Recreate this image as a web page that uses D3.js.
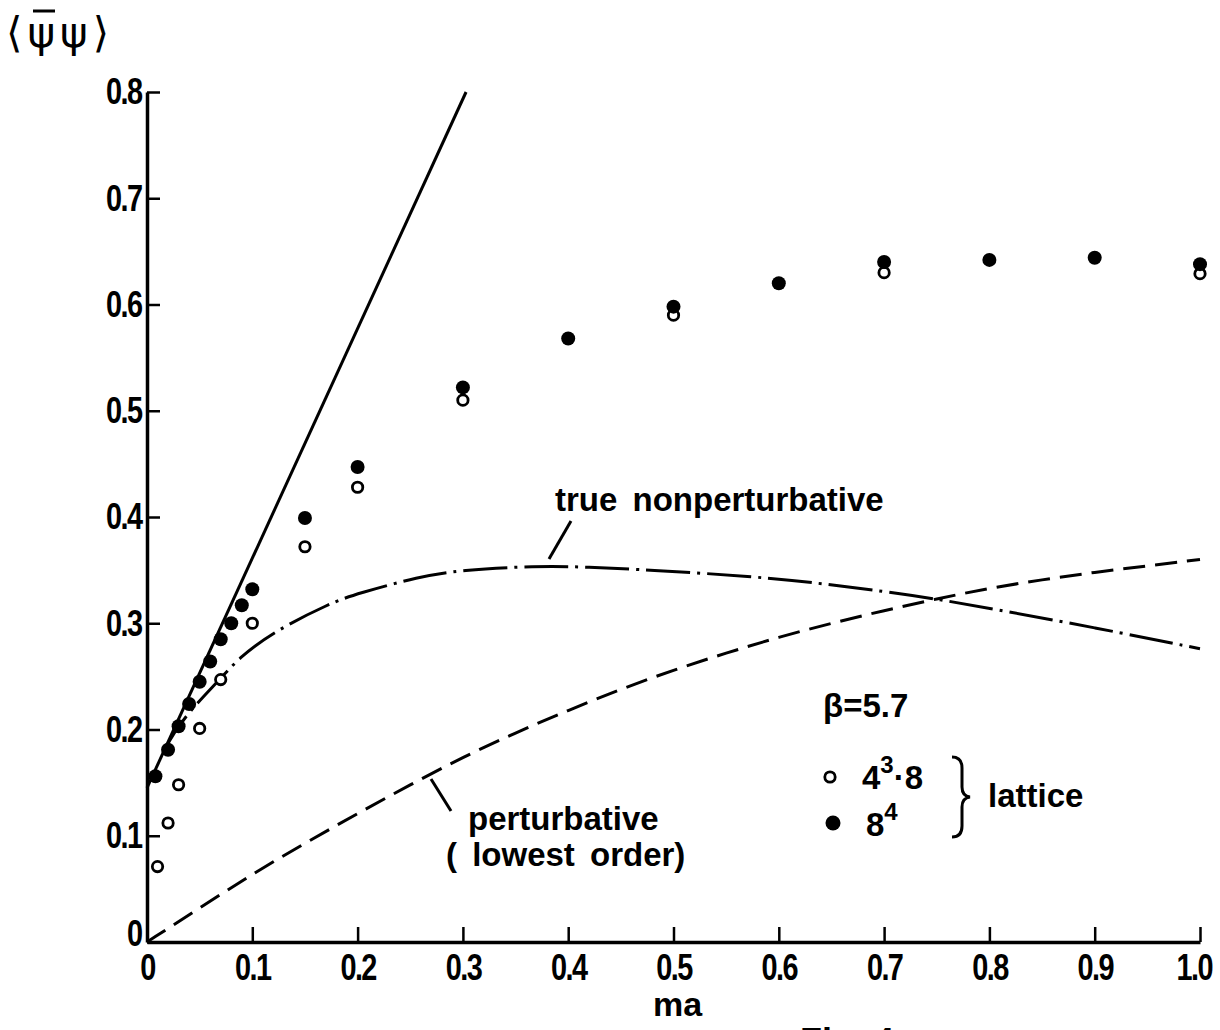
<!DOCTYPE html>
<html><head><meta charset="utf-8">
<script src="https://cdn.jsdelivr.net/npm/d3@7/dist/d3.min.js"></script>
<style>
body{margin:0;background:#fff;}
text{fill:#000;}
</style></head>
<body>
<svg id="c" width="1220" height="1030"></svg>
<script>
// ---- data ----
const xTicks = [0,0.1,0.2,0.3,0.4,0.5,0.6,0.7,0.8,0.9,1.0];
const xTickLabels = ["0","0.1","0.2","0.3","0.4","0.5","0.6","0.7","0.8","0.9","1.0"];
const yTicks = [0,0.1,0.2,0.3,0.4,0.5,0.6,0.7,0.8];
const yTickLabels = ["0","0.1","0.2","0.3","0.4","0.5","0.6","0.7","0.8"];

// 4^3·8 lattice (open circles)
const openX = [0.01,0.02,0.03,0.05,0.07,0.10,0.15,0.20,0.30,0.50,0.70,1.00];
const openY = [0.071,0.112,0.148,0.201,0.247,0.300,0.372,0.428,0.510,0.590,0.630,0.629];
// 8^4 lattice (filled circles)
const filledX = [0.008,0.02,0.03,0.04,0.05,0.06,0.07,0.08,0.09,0.10,0.15,0.20,0.30,0.40,0.50,0.60,0.70,0.80,0.90,1.00];
const filledY = [0.156,0.181,0.203,0.224,0.245,0.264,0.285,0.300,0.317,0.332,0.399,0.447,0.522,0.568,0.598,0.620,0.640,0.642,0.644,0.638];
// straight solid line
const lineX = [0,0.303];
const lineY = [0.145,0.80];
// true nonperturbative (dash-dot)
const npX = [0.015,0.025,0.041,0.069,0.088,0.12,0.174,0.20,0.259,0.297,0.37,0.417,0.481,0.576,0.636,0.70,0.755,0.80,0.90,1.00];
const npY = [0.178,0.196,0.218,0.247,0.268,0.292,0.319,0.328,0.344,0.350,0.354,0.353,0.350,0.344,0.338,0.330,0.322,0.314,0.296,0.276];
// perturbative lowest order (dashed)
const ptX = [0,0.05,0.10,0.15,0.20,0.25,0.30,0.35,0.40,0.45,0.50,0.55,0.60,0.65,0.70,0.75,0.80,0.85,0.90,0.95,1.00];
const ptY = [0,0.032,0.064,0.093,0.121,0.148,0.174,0.197,0.218,0.238,0.256,0.272,0.287,0.300,0.312,0.323,0.333,0.341,0.348,0.354,0.360];

// ---- drawing ----
const svg = d3.select("#c");
const x = d3.scaleLinear().domain([0,1]).range([147,1200]);
const y = d3.scaleLinear().domain([0,0.8]).range([942,92]);
const tickFont = "'Liberation Sans','DejaVu Sans',sans-serif";
const textFont = "'Liberation Sans','DejaVu Sans',sans-serif";

// x axis
const gx = svg.append("g").attr("transform",`translate(0,${y(0)})`)
  .call(d3.axisBottom(x).tickValues(xTicks).tickFormat((d,i)=>xTickLabels[i]).tickSizeInner(-15).tickSizeOuter(0).tickPadding(12));
gx.select(".domain").attr("stroke","#000").attr("stroke-width",3.5);
gx.selectAll(".tick line").attr("stroke","#000").attr("stroke-width",2.5);
gx.selectAll(".tick text").attr("font-family",tickFont).attr("font-weight","bold").attr("font-size",37)
  .attr("letter-spacing",-2).attr("transform","scale(0.78,1)");
gx.selectAll(".tick").filter(d=>d===1).select("text").attr("x",-8);

// y axis
const gy = svg.append("g").attr("transform",`translate(${x(0)},0)`)
  .call(d3.axisLeft(y).tickValues(yTicks).tickFormat((d,i)=>yTickLabels[i]).tickSizeInner(-13).tickSizeOuter(0).tickPadding(7));
gy.select(".domain").attr("stroke","#000").attr("stroke-width",3.5);
gy.selectAll(".tick line").attr("stroke","#000").attr("stroke-width",2.5);
gy.selectAll(".tick text").attr("font-family",tickFont).attr("font-weight","bold").attr("font-size",37)
  .attr("letter-spacing",-2).attr("transform","scale(0.78,1)");
gy.selectAll(".tick").filter(d=>d===0).select("text").attr("dy","0.1em");

// curves
const mk = (xs,ys)=>xs.map((v,i)=>[v,ys[i]]);
const lineGen = d3.line().x(d=>x(d[0])).y(d=>y(d[1])).curve(d3.curveBasis);
svg.append("path").datum(mk(ptX,ptY)).attr("d",lineGen)
  .attr("fill","none").attr("stroke","#000").attr("stroke-width",3).attr("stroke-dasharray","22,10");
svg.append("path").datum(mk(npX,npY)).attr("d",lineGen)
  .attr("fill","none").attr("stroke","#000").attr("stroke-width",3).attr("stroke-dasharray","44,7,3,7");
svg.append("path").datum(mk(lineX,lineY)).attr("d",d3.line().x(d=>x(d[0])).y(d=>y(d[1])))
  .attr("fill","none").attr("stroke","#000").attr("stroke-width",3);

// points
svg.append("g").selectAll("circle").data(mk(openX,openY)).join("circle")
  .attr("cx",d=>x(d[0])).attr("cy",d=>y(d[1])).attr("r",5.2)
  .attr("fill","#fff").attr("stroke","#000").attr("stroke-width",2.8);
svg.append("g").selectAll("circle").data(mk(filledX,filledY)).join("circle")
  .attr("cx",d=>x(d[0])).attr("cy",d=>y(d[1])).attr("r",7).attr("fill","#000");

// axis titles
const yt = svg.append("text").attr("x",6).attr("y",47).attr("font-family","'DejaVu Sans',sans-serif")
  .attr("font-size",42).attr("letter-spacing",5);
yt.text("⟨ψψ⟩");
svg.append("line").attr("x1",33).attr("x2",55).attr("y1",11).attr("y2",11).attr("stroke","#000").attr("stroke-width",3);
svg.append("text").attr("x",x(0.5)+4).attr("y",1016).attr("text-anchor","middle")
  .attr("font-family",textFont).attr("font-weight","bold").attr("font-size",34).text("ma");
svg.append("text").attr("x",800).attr("y",1054).attr("font-family",textFont).attr("font-weight","bold").attr("font-size",36).text("Fig. 4");

// annotations
const ann = (t,xx,yy)=>svg.append("text").attr("x",xx).attr("y",yy).attr("font-family",textFont)
  .attr("font-weight","bold").attr("font-size",33).attr("word-spacing",6).text(t);
ann("true nonperturbative",555,511);
svg.append("line").attr("x1",571).attr("y1",521).attr("x2",549).attr("y2",559).attr("stroke","#000").attr("stroke-width",3);
ann("perturbative",468,830);
ann("( lowest order)",446,866);
svg.append("line").attr("x1",431).attr("y1",779).attr("x2",451).attr("y2",811).attr("stroke","#000").attr("stroke-width",3);

// legend
ann("β=5.7",823,717);
svg.append("circle").attr("cx",830).attr("cy",777).attr("r",5.2).attr("fill","#fff").attr("stroke","#000").attr("stroke-width",2.8);
svg.append("circle").attr("cx",833).attr("cy",823).attr("r",7.5).attr("fill","#000");
const l1 = svg.append("text").attr("x",862).attr("y",789).attr("font-family",textFont).attr("font-weight","bold").attr("font-size",33);
l1.append("tspan").text("4");
l1.append("tspan").attr("dy",-16).attr("font-size",24).text("3");
l1.append("tspan").attr("dy",16).text("·8");
const l2 = svg.append("text").attr("x",866).attr("y",836).attr("font-family",textFont).attr("font-weight","bold").attr("font-size",33);
l2.append("tspan").text("8");
l2.append("tspan").attr("dy",-16).attr("font-size",24).text("4");
svg.append("path").attr("d","M952,757 Q962,757 962,768 L962,787 Q962,796 970,797 Q962,798 962,807 L962,826 Q962,837 952,837")
  .attr("fill","none").attr("stroke","#000").attr("stroke-width",3);
ann("lattice",988,807);
</script>
</body></html>
